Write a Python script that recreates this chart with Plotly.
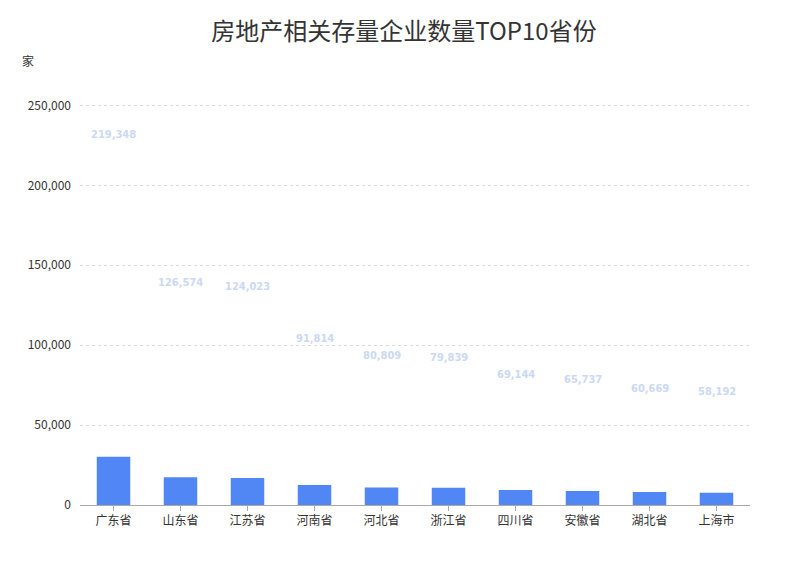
import plotly.graph_objects as go

provinces = ["广东省", "山东省", "江苏省", "河南省", "河北省", "浙江省", "四川省", "安徽省", "湖北省", "上海市"]
label_values = [219348, 126574, 124023, 91814, 80809, 79839, 69144, 65737, 60669, 58192]
# bar heights as drawn in the reference (bars shown mid-growth)
bar_heights = [30200, 17300, 16900, 12500, 10900, 10800, 9400, 8750, 8100, 7700]
y_ticks = [0, 50000, 100000, 150000, 200000, 250000]
y_tick_text = ["0", "50,000", "100,000", "150,000", "200,000", "250,000"]

fig = go.Figure()
fig.add_trace(go.Bar(
    x=provinces, y=bar_heights, width=0.5,
    marker=dict(color="#5087f5", line=dict(width=0)),
    hoverinfo="skip",
))

for p, v in zip(provinces, label_values):
    fig.add_annotation(
        x=p, y=v, text=f"{v:,}", showarrow=False, yshift=20,
        font=dict(family="DejaVu Sans Condensed, Roboto", size=11, color="#cbd9f4", weight="bold"),
    )

fig.add_annotation(
    xref="paper", yref="paper", x=-0.09, y=1.105, xanchor="left", yanchor="middle",
    text="家", showarrow=False,
    font=dict(family="Noto Sans CJK SC", size=12, color="#333333"),
)

fig.update_layout(
    width=792, height=568,
    margin=dict(l=72, r=50, t=95, b=71),
    paper_bgcolor="white", plot_bgcolor="white",
    showlegend=False,
    title=dict(
        text="房地产相关存量企业数量TOP10省份", x=0.5, xanchor="center", y=0.958, yanchor="middle",
        font=dict(family="Noto Sans CJK SC", size=24, color="#333333"),
    ),
    font=dict(family="Noto Sans CJK SC", size=12, color="#333333"),
    xaxis=dict(
        showline=True, linecolor="#aaaaaa", linewidth=1,
        ticks="outside", ticklen=5, tickcolor="#aaaaaa",
        showgrid=False, tickfont=dict(size=12, color="#333333"),
        range=[-0.5, 9.5],
    ),
    yaxis=dict(
        range=[0, 251500], tickvals=y_ticks, ticktext=y_tick_text,
        showgrid=True, gridcolor="#d9d9d9", griddash="3px,3px", gridwidth=1,
        zeroline=False, showline=False, ticks="", ticklabelstandoff=8,
        tickfont=dict(size=12, color="#333333"),
    ),
)

fig.write_html("out.html")
